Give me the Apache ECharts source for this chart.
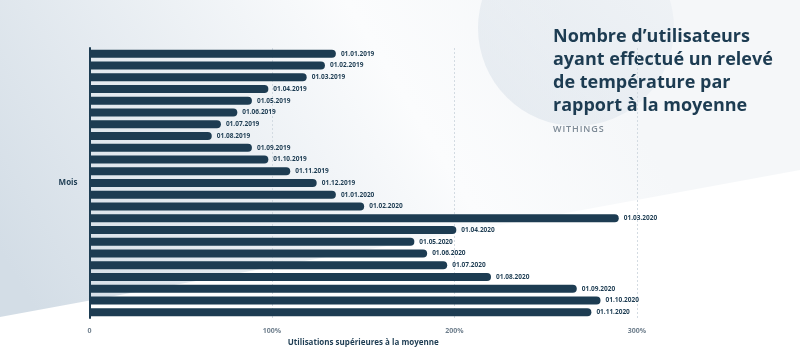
<!DOCTYPE html>
<html><head><meta charset="utf-8">
<script src="https://cdn.jsdelivr.net/npm/echarts@6/dist/echarts.min.js"></script>
<style>html,body{margin:0;padding:0;background:#fff}#c{width:800px;height:359px}</style>
</head><body><div id="c"></div>
<script>
const categories = ["01.01.2019","01.02.2019","01.03.2019","01.04.2019","01.05.2019","01.06.2019","01.07.2019","01.08.2019","01.09.2019","01.10.2019","01.11.2019","01.12.2019","01.01.2020","01.02.2020","01.03.2020","01.04.2020","01.05.2020","01.06.2020","01.07.2020","01.08.2020","01.09.2020","01.10.2020","01.11.2020"];
const values = [135,129,119,98,89,81,72,67,89,98,110,124.5,135,150.5,290,201,178,185,196,220,267,280,275];
const xTicks = [0,100,200,300];
const titleLines = ["Nombre d\u2019utilisateurs","ayant effectu\u00e9 un relev\u00e9","de temp\u00e9rature par","rapport \u00e0 la moyenne"];
const sourceText = "WITHINGS";

const dark = '#1d3c52';
const font = '"Open Sans", Lato, sans-serif';
const chart = echarts.init(document.getElementById('c'), null, {renderer:'canvas'});
chart.setOption({
  backgroundColor:'#ffffff',
  animation:false,
  graphic:[
    {type:'polygon', z:-10, silent:true,
     shape:{points:[[0,0],[800,0],[800,170],[0,317]]},
     style:{fill:{type:'linear',x:0.7,y:0,x2:0.05,y2:1,colorStops:[{offset:0,color:'#f5f7f9'},{offset:0.3,color:'#fbfcfd'},{offset:1,color:'#d3dde6'}]}}},
    {type:'circle', z:-9, silent:true,
     shape:{cx:576,cy:28,r:98},
     style:{fill:{type:'linear',x:0,y:1,x2:1,y2:0,colorStops:[{offset:0,color:'rgba(200,212,224,0.42)'},{offset:1,color:'rgba(220,228,236,0.2)'}]}}},
    {type:'text', left:553, top:25, silent:true,
     style:{text:titleLines.join('\n'), fill:dark, font:'bold 18px '+font, lineHeight:23}},
    {type:'text', left:553, top:125, silent:true,
     style:{text:sourceText.split('').join('\u200a'), fill:'#7d8a96', font:'600 9px '+font}}
  ],
  grid:{left:89.5, top:48, width:547.5, height:270, containLabel:false},
  xAxis:{type:'value', min:0, max:300, interval:100,
    axisLine:{show:false}, axisTick:{show:false},
    splitLine:{show:true, lineStyle:{color:'#d3dbe2', type:[2,2], width:1}},
    axisLabel:{color:'#6f7f8d', fontSize:7, fontWeight:'bold', fontFamily:font, margin:9,
      formatter:v=> xTicks.includes(v) ? (v===0?'0':v+'%') : ''},
    name:'Utilisations sup\u00e9rieures \u00e0 la moyenne', nameLocation:'middle', nameGap:16,
    nameTextStyle:{color:dark, fontSize:8, fontWeight:'bold', fontFamily:font}
  },
  yAxis:{type:'category', data:categories, inverse:true,
    axisLine:{show:true, lineStyle:{color:dark, width:2}}, axisTick:{show:false}, axisLabel:{show:false},
    name:'Mois', nameLocation:'middle', nameRotate:0, nameGap:12,
    nameTextStyle:{color:dark, fontSize:8, fontWeight:'bold', fontFamily:font, align:'right'}
  },
  series:[{type:'bar', data:values, barWidth:8,
    itemStyle:{color:dark, borderRadius:[0,4,4,0]},
    label:{show:true, position:'right', distance:5, formatter:p=>categories[p.dataIndex],
      color:dark, fontSize:6.5, fontWeight:'bold', fontFamily:font}
  }]
});
</script></body></html>
